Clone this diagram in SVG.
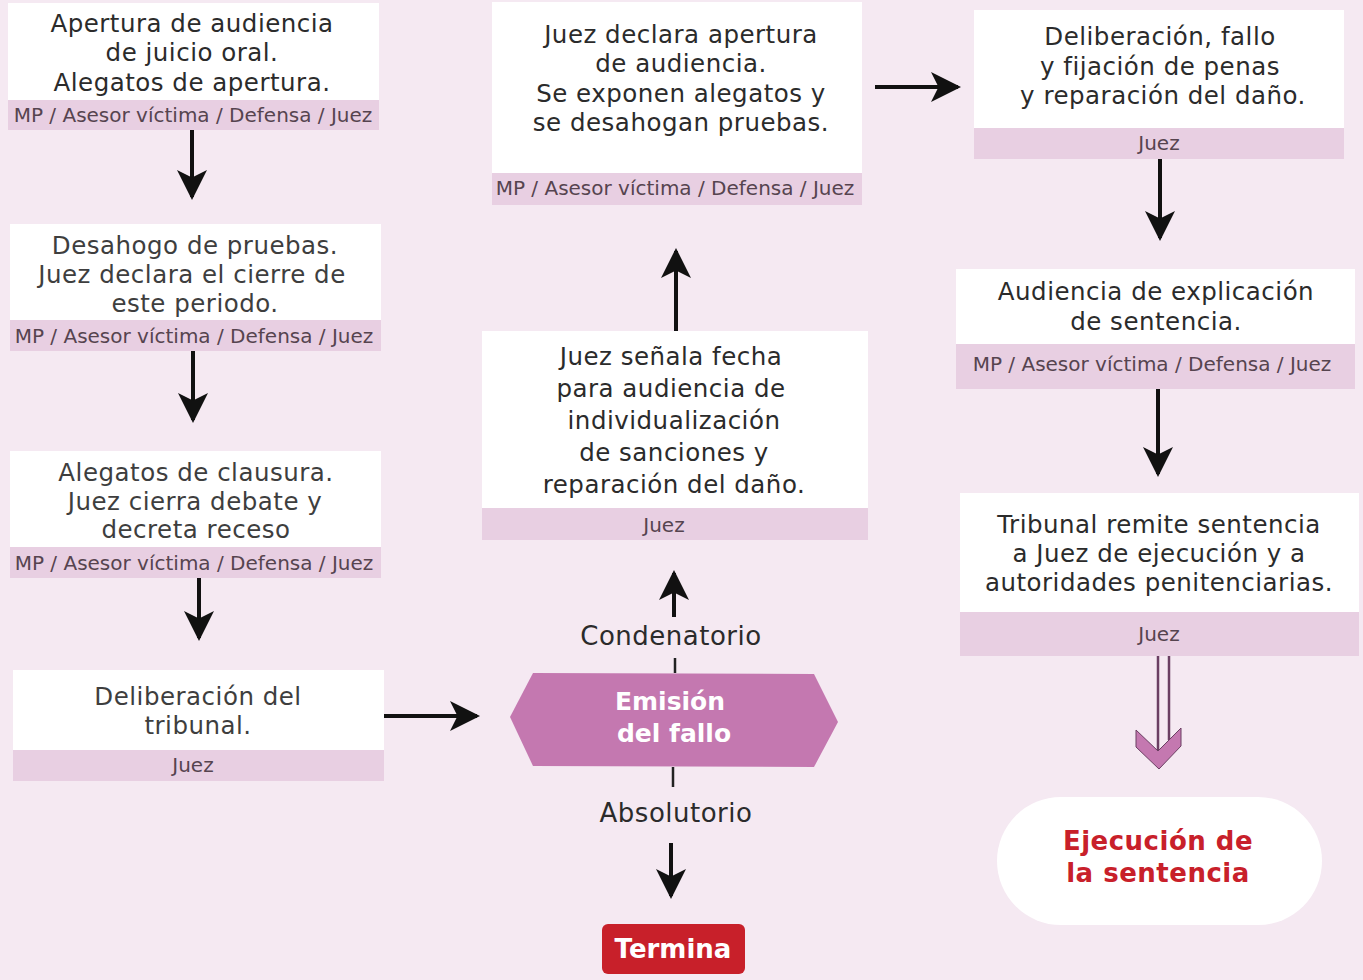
<svg xmlns="http://www.w3.org/2000/svg" width="1363" height="980" viewBox="0 0 1363 980">
<defs>
<style>
.bg{fill:#f5e9f2}
.box{fill:#ffffff}
.bar{fill:#e8cfe2}
.t{font-family:"DejaVu Sans","Liberation Sans",sans-serif;font-size:24.5px;fill:#2b2b2b;text-anchor:middle;letter-spacing:0.5px}
.tg{fill:#3e3e3e}
.lab{font-size:26px}
.b{font-family:"DejaVu Sans","Liberation Sans",sans-serif;font-size:20px;fill:#56444f;text-anchor:middle}
.w{font-family:"DejaVu Sans","Liberation Sans",sans-serif;font-size:25px;font-weight:700;fill:#ffffff;text-anchor:middle}
.r{font-family:"DejaVu Sans","Liberation Sans",sans-serif;font-size:26px;font-weight:700;fill:#c8202a;text-anchor:middle;letter-spacing:0.5px}
.c{stroke:#111111;stroke-width:4;fill:none}
.l{stroke:#222222;stroke-width:2.5;fill:none}
</style>
<marker id="ah" viewBox="0 0 10 10" refX="9" refY="5" markerWidth="7.5" markerHeight="7.5" orient="auto" markerUnits="strokeWidth">
<path d="M0,0 L10,5 L0,10 L2.5,5 Z" fill="#111111"/>
</marker>
</defs>
<rect class="bg" x="0" y="0" width="1363" height="980"/>

<g id="n1">
<rect class="box" x="8" y="3" width="371" height="97"/>
<rect class="bar" x="8" y="100" width="371" height="30"/>
<text class="t" x="192" y="32">Apertura de audiencia</text>
<text class="t" x="192" y="61">de juicio oral.</text>
<text class="t" x="192" y="91">Alegatos de apertura.</text>
<text class="b" x="193" y="122">MP / Asesor víctima / Defensa / Juez</text>
</g>

<g id="n2">
<rect class="box" x="10" y="224" width="371" height="96"/>
<rect class="bar" x="10" y="320" width="371" height="31"/>
<text class="t tg" x="195" y="254">Desahogo de pruebas.</text>
<text class="t tg" x="192" y="283">Juez declara el cierre de</text>
<text class="t tg" x="195" y="312">este periodo.</text>
<text class="b" x="194" y="343">MP / Asesor víctima / Defensa / Juez</text>
</g>

<g id="n3">
<rect class="box" x="10" y="451" width="371" height="96"/>
<rect class="bar" x="10" y="547" width="371" height="31"/>
<text class="t tg" x="196" y="481">Alegatos de clausura.</text>
<text class="t tg" x="195" y="510">Juez cierra debate y</text>
<text class="t tg" x="196" y="538">decreta receso</text>
<text class="b" x="194" y="570">MP / Asesor víctima / Defensa / Juez</text>
</g>

<g id="n4">
<rect class="box" x="13" y="670" width="371" height="80"/>
<rect class="bar" x="13" y="750" width="371" height="31"/>
<text class="t tg" x="198" y="705">Deliberación del</text>
<text class="t tg" x="198" y="734">tribunal.</text>
<text class="b" x="193" y="772">Juez</text>
</g>

<g id="n5">
<polygon points="510,717 533,673 814,674 838,722 814,767 533,766" fill="#c478b0"/>
<text class="w" x="670" y="710">Emisión</text>
<text class="w" x="674" y="742">del fallo</text>
</g>

<g id="n6">
<rect x="602" y="924" width="143" height="50" rx="6" fill="#c8202a"/>
<text class="w" x="673" y="958" style="font-size:26px">Termina</text>
</g>

<g id="n7">
<rect class="box" x="482" y="331" width="386" height="177"/>
<rect class="bar" x="482" y="508" width="386" height="32"/>
<text class="t" x="671" y="365">Juez señala fecha</text>
<text class="t" x="671" y="397">para audiencia de</text>
<text class="t" x="674" y="429">individualización</text>
<text class="t" x="674" y="461">de sanciones y</text>
<text class="t" x="674" y="493">reparación del daño.</text>
<text class="b" x="664" y="532">Juez</text>
</g>

<g id="n8">
<rect class="box" x="492" y="2" width="370" height="171"/>
<rect class="bar" x="492" y="173" width="370" height="32"/>
<text class="t" x="681" y="43">Juez declara apertura</text>
<text class="t" x="681" y="72">de audiencia.</text>
<text class="t" x="681" y="102">Se exponen alegatos y</text>
<text class="t" x="681" y="131">se desahogan pruebas.</text>
<text class="b" x="675" y="195">MP / Asesor víctima / Defensa / Juez</text>
</g>

<g id="n9">
<rect class="box" x="974" y="10" width="370" height="118"/>
<rect class="bar" x="974" y="128" width="370" height="31"/>
<text class="t" x="1160" y="45">Deliberación, fallo</text>
<text class="t" x="1160" y="75">y fijación de penas</text>
<text class="t" x="1163" y="104">y reparación del daño.</text>
<text class="b" x="1159" y="150">Juez</text>
</g>

<g id="n10">
<rect class="box" x="956" y="269" width="399" height="75"/>
<rect class="bar" x="956" y="344" width="399" height="45"/>
<text class="t" x="1156" y="300">Audiencia de explicación</text>
<text class="t" x="1156" y="330">de sentencia.</text>
<text class="b" x="1152" y="371">MP / Asesor víctima / Defensa / Juez</text>
</g>

<g id="n11">
<rect class="box" x="960" y="493" width="399" height="119"/>
<rect class="bar" x="960" y="612" width="399" height="44"/>
<text class="t" x="1159" y="533">Tribunal remite sentencia</text>
<text class="t" x="1159" y="562">a Juez de ejecución y a</text>
<text class="t" x="1159" y="591">autoridades penitenciarias.</text>
<text class="b" x="1159" y="641">Juez</text>
</g>

<g id="n12">
<rect x="997" y="797" width="325" height="128" rx="64" fill="#ffffff"/>
<text class="r" x="1158" y="850">Ejecución de</text>
<text class="r" x="1158" y="882">la sentencia</text>
</g>

<g id="connectors">
<line class="c" x1="192" y1="130" x2="192" y2="197" marker-end="url(#ah)"/>
<line class="c" x1="193" y1="351" x2="193" y2="420" marker-end="url(#ah)"/>
<line class="c" x1="199" y1="578" x2="199" y2="638" marker-end="url(#ah)"/>
<line class="c" x1="384" y1="716" x2="477" y2="716" marker-end="url(#ah)"/>
<line class="l" x1="675" y1="658" x2="675" y2="673"/>
<text class="t lab" x="671" y="645">Condenatorio</text>
<line class="c" x1="674" y1="617" x2="674" y2="573" marker-end="url(#ah)"/>
<line class="l" x1="673" y1="767" x2="673" y2="787"/>
<text class="t lab" x="676" y="822">Absolutorio</text>
<line class="c" x1="671" y1="843" x2="671" y2="896" marker-end="url(#ah)"/>
<line class="c" x1="676" y1="331" x2="676" y2="251" marker-end="url(#ah)"/>
<line class="c" x1="875" y1="87" x2="958" y2="87" marker-end="url(#ah)"/>
<line class="c" x1="1160" y1="159" x2="1160" y2="238" marker-end="url(#ah)"/>
<line class="c" x1="1158" y1="389" x2="1158" y2="474" marker-end="url(#ah)"/>
<line x1="1158" y1="656" x2="1158" y2="751" stroke="#6b3f63" stroke-width="2.5"/>
<line x1="1169" y1="656" x2="1169" y2="740" stroke="#6b3f63" stroke-width="2.5"/>
<polygon points="1136,730 1158,751 1181,728 1181,746 1159,769 1136,747" fill="#c478b0" stroke="#6b3f63" stroke-width="1"/>
</g>
</svg>
